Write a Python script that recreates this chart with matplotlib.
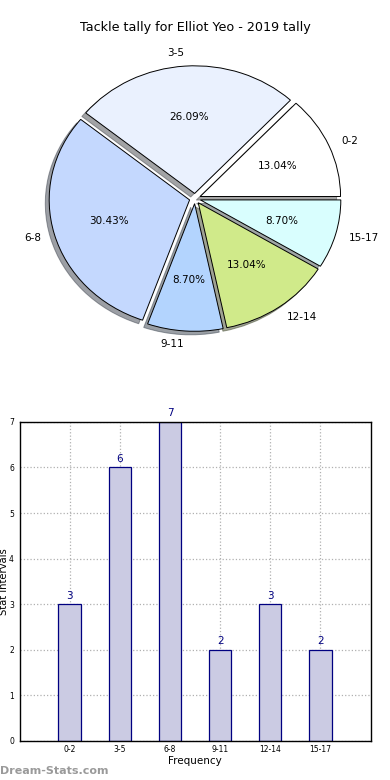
import matplotlib
matplotlib.use("Agg")
import matplotlib.pyplot as plt

intervals = ["0-2", "3-5", "6-8", "9-11", "12-14", "15-17"]
counts = [3, 6, 7, 2, 3, 2]
slice_colors = ["#ffffff", "#eaf1fe", "#c4d8fe", "#b3d4fe", "#d0ea8a", "#d9fefe"]
y_ticks = [0, 1, 2, 3, 4, 5, 6, 7]

fig, (ax1, ax2) = plt.subplots(2, 1, figsize=(3.9, 7.8), dpi=100)
fig.subplots_adjust(left=0.05, right=0.95, bottom=0.05, top=0.95, hspace=0.2)

# Pie chart on top
ax1.pie(counts, labels=intervals, colors=slice_colors, autopct="%1.2f%%",
        explode=[0.04] * len(counts), shadow=True, startangle=0,
        wedgeprops={"edgecolor": "black", "linewidth": 0.7},
        textprops={"fontsize": 7.5})
ax1.set_aspect("auto")
ax1.set_xlim(-1.25, 1.25)
ax1.set_ylim(-1.25, 1.25)
ax1.set_title("Tackle tally for Elliot Yeo - 2019 tally", fontsize=9.2, pad=6)

# Bar chart below
pos = list(range(len(intervals)))
bars = ax2.bar(pos, counts, width=0.45, color="#cbcbe3", edgecolor="navy", linewidth=0.9, zorder=2)
for b, v in zip(bars, counts):
    ax2.text(b.get_x() + b.get_width() / 2, v + 0.08, str(v), ha="center", va="bottom",
             color="navy", fontsize=7.5)

ax2.set_xlim(-1, 6)
ax2.set_ylim(0, 7)
ax2.set_xticks(pos)
ax2.set_xticklabels(intervals, fontsize=5.5)
ax2.set_yticks(y_ticks)
ax2.tick_params(axis="y", labelsize=5.5, length=0, pad=4)
ax2.tick_params(axis="x", length=0, pad=3)
ax2.grid(True, linestyle=":", color="#b0b0b0", linewidth=0.9, zorder=0)
ax2.set_axisbelow(True)
ax2.set_xlabel("Frequency", fontsize=7.5, labelpad=1)
ax2.set_ylabel("Stat intervals", fontsize=7.2)
ax2.yaxis.set_label_coords(-0.031, 0.5)
for s in ax2.spines.values():
    s.set_linewidth(1.0)

fig.text(0.0, 0.005, "Dream-Stats.com", color="#9a9a9a", fontsize=8, fontweight="bold",
         ha="left", va="bottom")

fig.savefig("out.png", dpi=100)
